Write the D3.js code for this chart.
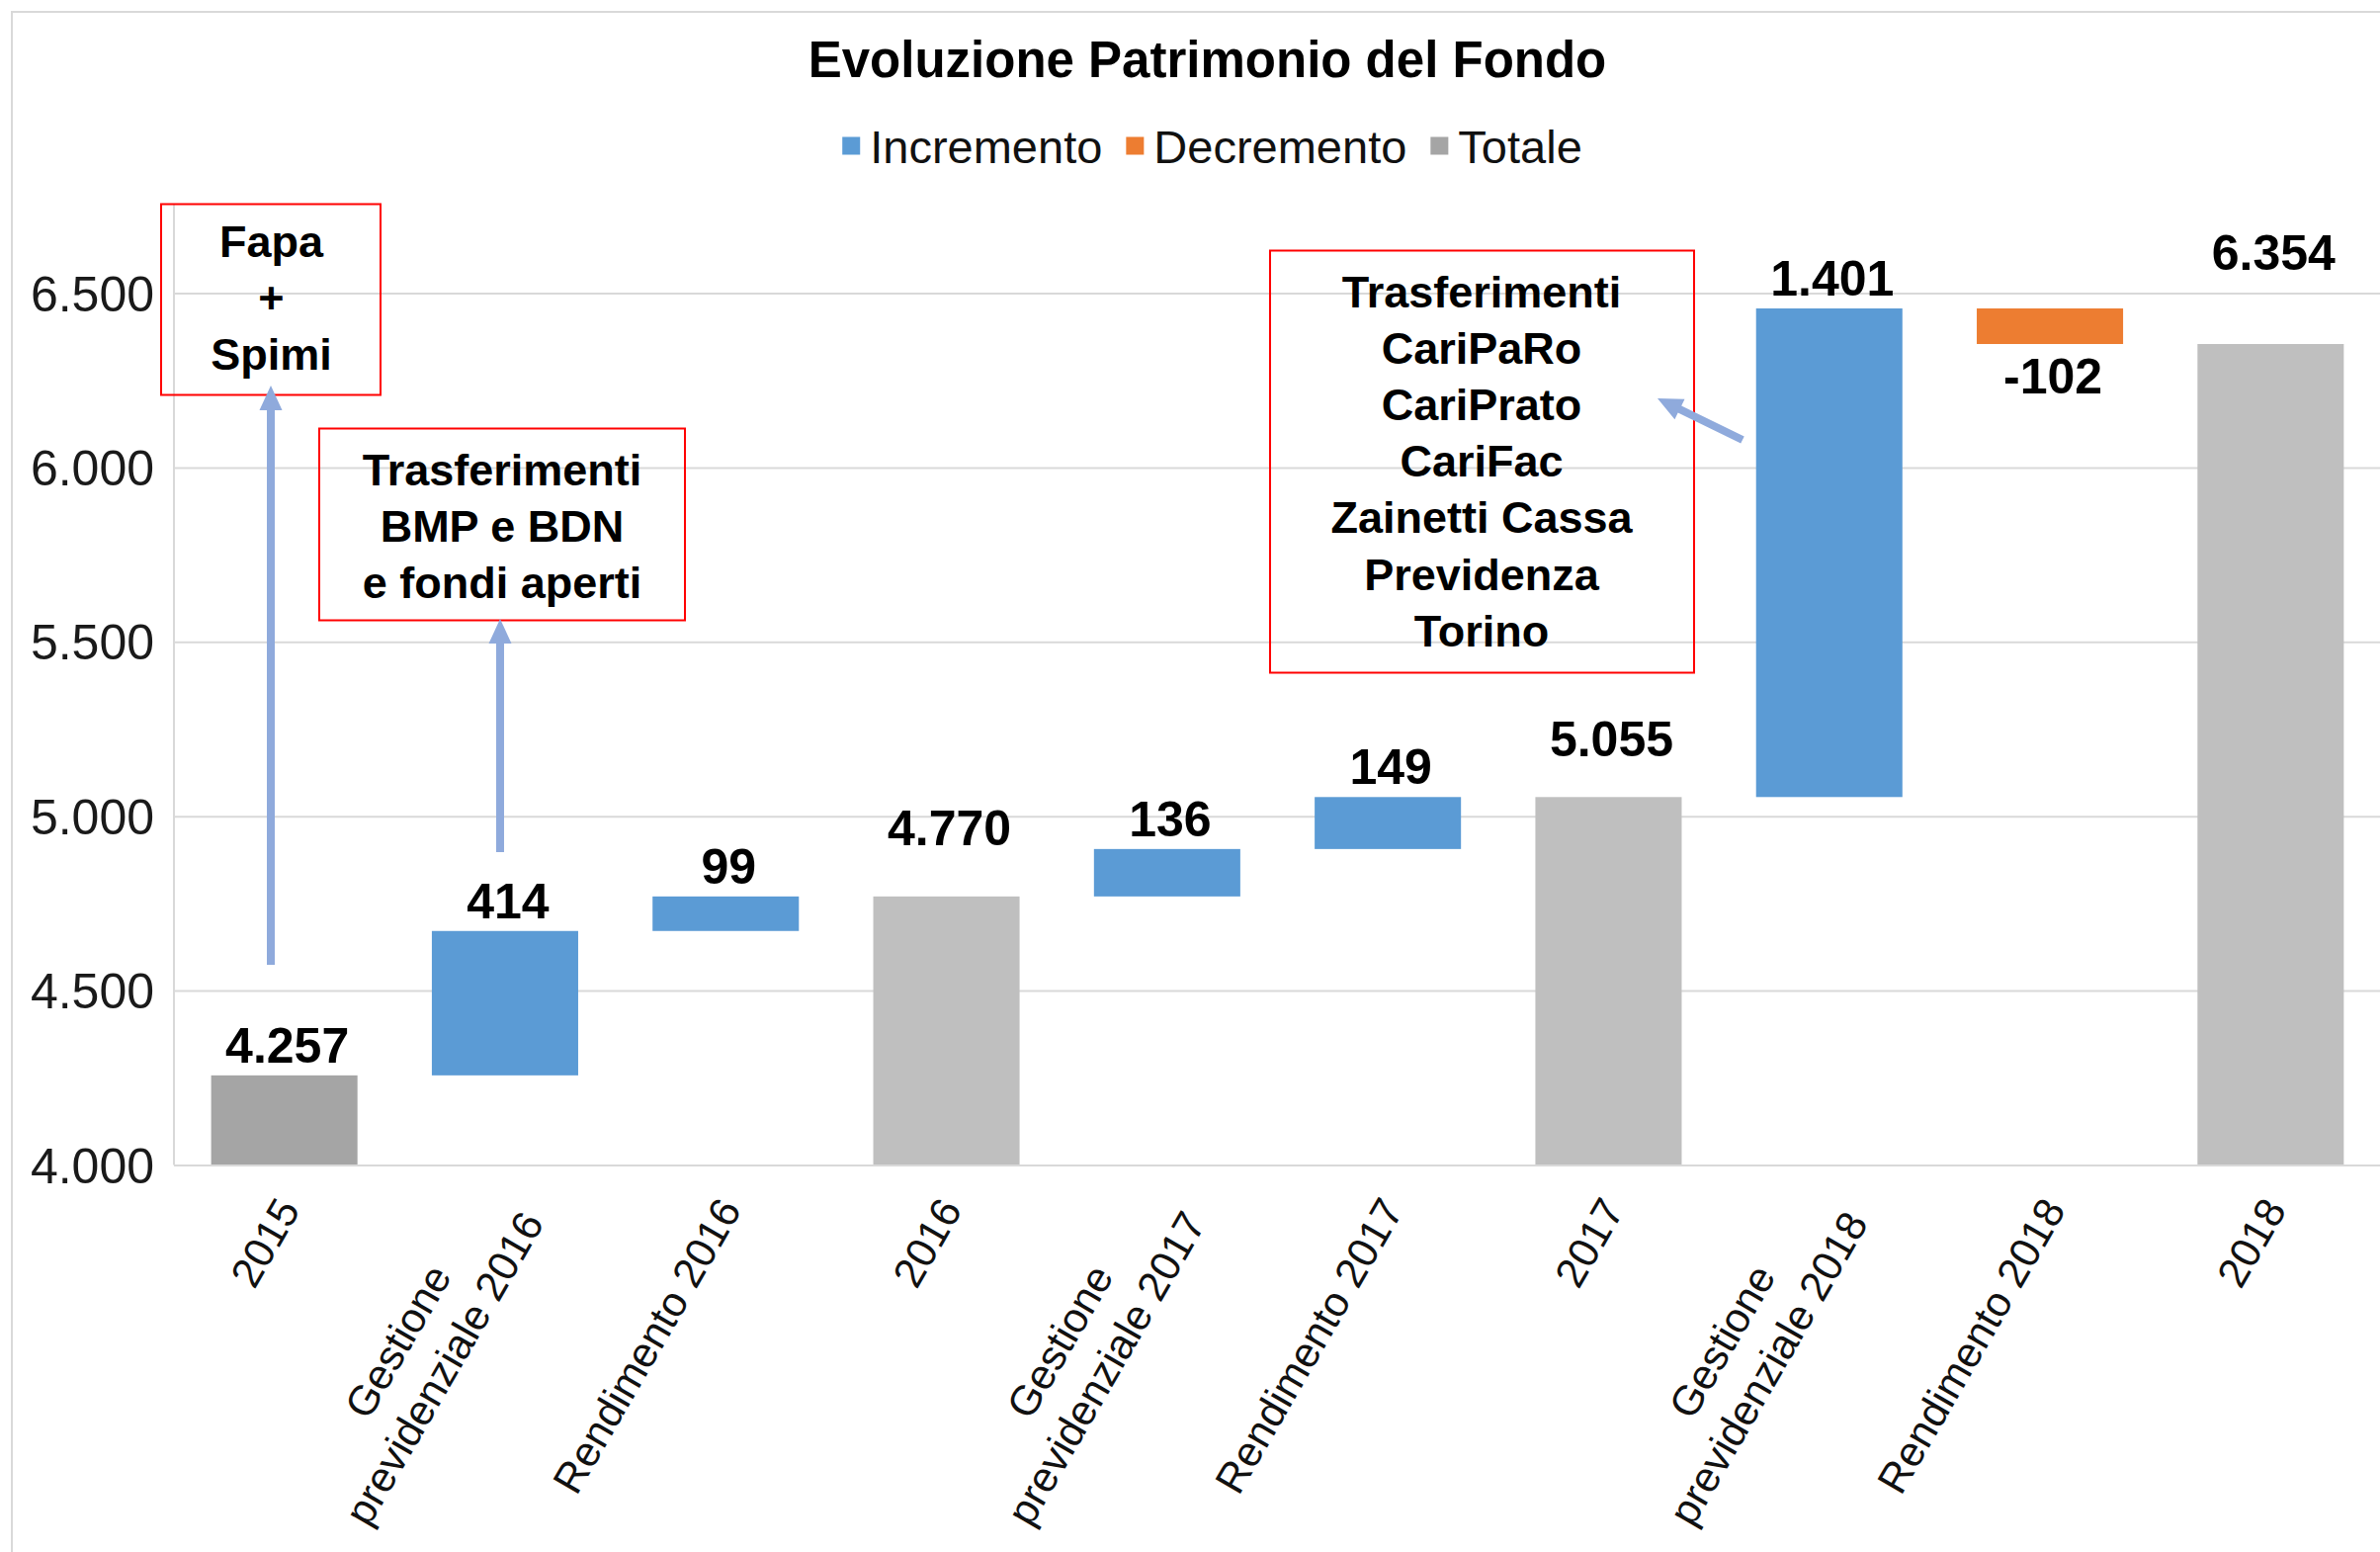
<!DOCTYPE html>
<html><head><meta charset="utf-8">
<script src="https://cdn.jsdelivr.net/npm/d3@7"></script>
<style>html,body{margin:0;padding:0;background:#fff;} svg{display:block;}</style>
</head><body>
<svg id="chart" width="2408" height="1570"></svg>
<script>
// ---------------- DATA ----------------
const title = "Evoluzione Patrimonio del Fondo";
const categories = ["2015", "Gestione\nprevidenziale 2016", "Rendimento 2016", "2016",
  "Gestione\nprevidenziale 2017", "Rendimento 2017", "2017",
  "Gestione\nprevidenziale 2018", "Rendimento 2018", "2018"];
const values = [4257, 414, 99, 4770, 136, 149, 5055, 1401, -102, 6354];
const kinds = ["Totale", "Incremento", "Incremento", "Totale", "Incremento", "Incremento",
  "Totale", "Incremento", "Decremento", "Totale"];
const seriesNames = ["Incremento", "Decremento", "Totale"];
const yTicks = [4000, 4500, 5000, 5500, 6000, 6500];
const noteTexts = [
  ["Fapa", "+", "Spimi"],
  ["Trasferimenti", "BMP e BDN", "e fondi aperti"],
  ["Trasferimenti", "CariPaRo", "CariPrato", "CariFac", "Zainetti Cassa", "Previdenza", "Torino"]
];

// ---------------- LAYOUT / STYLE ----------------
const W = 2408, H = 1570;
const plot = {left: 176, right: 2409, top: 206, bottom: 1178.5};
const seriesColor = {Incremento: "#5B9BD5", Decremento: "#ED7D31", Totale: "#A5A5A5"};
const laterTotalColor = "#BFBFBF";
const gridColor = "#D9D9D9";
const FONT = "'Liberation Sans', Arial, sans-serif";
const labelLift = {"2016": 39, "2017": 28, "2018": 62};
const noteBoxes = [
  {x: 163, y: 206.5, w: 222, h: 193, cx: 274.5, base: 260},
  {x: 323, y: 433.5, w: 370, h: 194, cx: 508, base: 491},
  {x: 1285, y: 253.5, w: 429, h: 427, cx: 1499, base: 310.5}
];
const noteLineGap = 57.2;
const arrows = [
  {x1: 274, y1: 976, x2: 274, y2: 390},
  {x1: 506, y1: 862, x2: 506, y2: 626},
  {x1: 1763, y1: 445, x2: 1677, y2: 403}
];

const svg = d3.select("#chart");
svg.append("rect").attr("width", W).attr("height", H).attr("fill", "#fff");
// outer chart border
svg.append("rect").attr("x", 12).attr("y", 12).attr("width", W + 20).attr("height", H + 20)
  .attr("fill", "none").attr("stroke", gridColor).attr("stroke-width", 2);

const x = d3.scaleBand().domain(categories).range([plot.left, plot.right])
  .paddingInner(0.337).paddingOuter(0.1685);
const y = d3.scaleLinear().domain([4000, 6500]).range([1178.5, 296.5]);

const fmt = d3.formatLocale({decimal: ",", thousands: ".", grouping: [3], currency: ["", "€"], minus: "-"}).format(",d");

// y axis with gridlines
const yAxis = svg.append("g").attr("transform", `translate(${plot.left},0)`)
  .call(d3.axisLeft(y).tickValues(yTicks).tickSize(-(plot.right - plot.left)).tickPadding(20).tickFormat(fmt));
yAxis.select(".domain").remove();
yAxis.selectAll(".tick line").attr("stroke", gridColor).attr("stroke-width", 2);
yAxis.selectAll(".tick text").attr("font-family", FONT).attr("font-size", 50)
  .attr("fill", "#1a1a1a").attr("dy", "0.35em");

// left vertical plot border
svg.append("line").attr("x1", plot.left).attr("x2", plot.left)
  .attr("y1", plot.top).attr("y2", plot.bottom).attr("stroke", gridColor).attr("stroke-width", 2);

// bars (waterfall)
let run = 0;
const bars = categories.map((c, i) => {
  const v = values[i], k = kinds[i];
  let lo, hi;
  if (k === "Totale") { lo = y.domain()[0]; hi = v; run = v; }
  else { lo = run; hi = run + v; run = hi; }
  return {c, v, k, i, lo: Math.min(lo, hi), hi: Math.max(lo, hi)};
});

svg.append("g").selectAll("rect").data(bars).join("rect")
  .attr("x", d => x(d.c))
  .attr("width", x.bandwidth())
  .attr("y", d => y(d.hi))
  .attr("height", d => y(d.lo) - y(d.hi))
  .attr("fill", d => d.k === "Totale" && d.i > 0 ? laterTotalColor : seriesColor[d.k]);

// x axis line
const xAxis = svg.append("g").attr("transform", `translate(0,${plot.bottom})`)
  .call(d3.axisBottom(x).tickSize(0).tickFormat(""));
xAxis.select(".domain").attr("stroke", gridColor).attr("stroke-width", 2);

// x tick labels (rotated, multi-line centered)
const xl = svg.append("g");
categories.forEach((c) => {
  const lines = c.split("\n");
  const g = xl.append("g")
    .attr("transform", `translate(${x(c) + x.bandwidth() / 2 + 4},1216) rotate(-60)`);
  const texts = lines.map((ln, j) => g.append("text")
    .attr("font-family", FONT).attr("font-size", 42.5).attr("fill", "#111")
    .attr("text-anchor", "middle")
    .attr("y", (j - (lines.length - 1) / 2) * 54)
    .attr("dy", "0.35em").text(ln));
  const wMax = d3.max(texts, t => t.node().getComputedTextLength());
  texts.forEach(t => t.attr("x", -wMax / 2));
});

// value labels
svg.append("g").selectAll("text").data(bars).join("text")
  .attr("font-family", FONT).attr("font-weight", "bold").attr("font-size", 50)
  .attr("fill", "#000").attr("text-anchor", "middle")
  .attr("x", d => x(d.c) + x.bandwidth() / 2 + 3)
  .attr("y", d => d.k === "Decremento" ? y(d.lo) + 50 : y(d.hi) - 13 - (labelLift[d.c] || 0))
  .text(d => fmt(d.v));

// title
svg.append("text").attr("x", 1221.5).attr("y", 78).attr("text-anchor", "middle")
  .attr("font-family", FONT).attr("font-weight", "bold").attr("font-size", 51)
  .attr("fill", "#000").text(title);

// legend
const lg = svg.append("g");
let lx = 0;
seriesNames.forEach(n => {
  const g = lg.append("g");
  g.append("rect").attr("x", lx).attr("y", 138.5).attr("width", 18).attr("height", 18)
    .attr("fill", seriesColor[n]);
  const t = g.append("text").attr("x", lx + 28).attr("y", 165)
    .attr("font-family", FONT).attr("font-size", 47).attr("fill", "#111").text(n);
  lx += 28 + t.node().getComputedTextLength() + 24;
});
const legendW = lx - 24;
lg.attr("transform", `translate(${1226.5 - legendW / 2},0)`);

// annotation boxes
noteBoxes.forEach((b, i) => {
  svg.append("rect").attr("x", b.x).attr("y", b.y).attr("width", b.w).attr("height", b.h)
    .attr("fill", "none").attr("stroke", "#FF0000").attr("stroke-width", 2);
  noteTexts[i].forEach((ln, j) => {
    svg.append("text").attr("x", b.cx).attr("y", b.base + j * noteLineGap)
      .attr("text-anchor", "middle").attr("font-family", FONT).attr("font-weight", "bold")
      .attr("font-size", 45).attr("fill", "#000").text(ln);
  });
});

// arrows
arrows.forEach(a => {
  const dx = a.x2 - a.x1, dy = a.y2 - a.y1, L = Math.hypot(dx, dy);
  const ux = dx / L, uy = dy / L, px = -uy, py = ux;
  const hl = 25, hw = 11.5, sw = 4;
  const bx = a.x2 - ux * hl, by = a.y2 - uy * hl;
  const pts = [
    [a.x1 + px * sw, a.y1 + py * sw], [bx + px * sw, by + py * sw], [bx + px * hw, by + py * hw],
    [a.x2, a.y2], [bx - px * hw, by - py * hw], [bx - px * sw, by - py * sw], [a.x1 - px * sw, a.y1 - py * sw]
  ];
  svg.append("path").attr("d", d3.line()(pts) + "Z").attr("fill", "#8FAADC");
});
</script>
</body></html>
